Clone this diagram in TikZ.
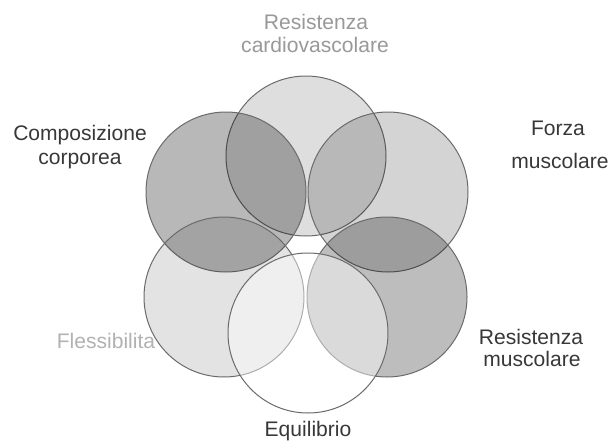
\documentclass[tikz,border=0pt]{standalone}
\usepackage{fontspec}
\setmainfont{Liberation Sans}
\begin{document}
\begin{tikzpicture}[x=0.75pt,y=-0.75pt,
  circ/.style={circle, draw=black!58, line width=0.75pt, minimum size=120pt, inner sep=0pt, fill=black},
  lab/.style={anchor=base, inner sep=0pt, font=\fontsize{15.8}{18}\selectfont, text=black!78},
  lightlab/.style={lab, text=black!40}]
\useasboundingbox (0,0) rectangle (610,446);
\fill[white] (0,0) rectangle (610,446);
% circles
\node[circ, fill opacity=0.13] (cardio) at (306,156) {};
\node[circ, fill opacity=0.17] (forza) at (388,192) {};
\node[circ, fill opacity=0.28] (comp) at (226,192) {};
\node[circ, fill opacity=0.11] (flex) at (224,297) {};
\node[circ, fill opacity=0.26] (resm) at (387,297) {};
\node[circ, fill=white, fill opacity=0.45] (equil) at (308,333) {};
% labels
\node[lightlab] (t1a) at (316,29) {Resistenza};
\node[lightlab] (t1b) at (315,52) {cardiovascolare};
\node[lab] (t2a) at (80,140) {Composizione};
\node[lab] (t2b) at (80,164) {corporea};
\node[lab] (t3a) at (558,135) {Forza};
\node[lab] (t3b) at (560,168) {muscolare};
\node[lab] (t4a) at (531,344) {Resistenza};
\node[lab] (t4b) at (532,366) {muscolare};
\node[lightlab, text=black!30] (t5) at (106,348) {Flessibilita};
\node[lab] (t6) at (308,436) {Equilibrio};
\end{tikzpicture}
\end{document}
